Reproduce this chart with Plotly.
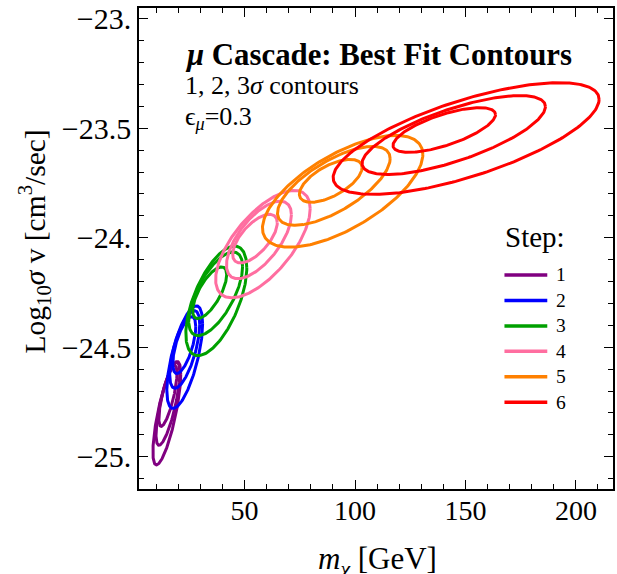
import numpy as np
import plotly.graph_objects as go

# ---- data ----
step_labels = ["1", "2", "3", "4", "5", "6"]
# contour levels per step, ordered 1σ, 2σ, 3σ
mass_center = [[15.3, 15.3, 14.8], [22.7, 22.9, 22.9], [34.2, 36.9, 37.2],
               [54.7, 56.5, 58.3], [89.0, 90.4, 94.4], [140.4, 144.7, 150.3]]
mass_halfwidth = [[4.1, 5.4, 6.3], [5.2, 6.8, 8.1], [7.7, 12.2, 13.8],
                  [10.1, 14.7, 21.4], [14.2, 25.5, 36.3], [23.2, 41.5, 60.2]]
logsv_center = [[-24.722, -24.758, -24.801], [-24.490, -24.510, -24.545],
                [-24.251, -24.256, -24.288], [-24.004, -24.010, -24.029],
                [-23.740, -23.763, -23.788], [-23.508, -23.531, -23.547]]
logsv_halfwidth = [[0.139, 0.189, 0.236], [0.130, 0.177, 0.234],
                   [0.118, 0.191, 0.250], [0.111, 0.177, 0.245],
                   [0.098, 0.180, 0.255], [0.102, 0.180, 0.255]]
correlation = [[0.75, 0.75, 0.75], [0.65, 0.65, 0.65], [0.70, 0.65, 0.60],
               [0.65, 0.65, 0.66], [0.62, 0.69, 0.66], [0.69, 0.72, 0.70]]
mass_scan_min = 8.5  # lower edge of the mass scan (step 1 contours are cut there)

x_ticks = [50, 100, 150, 200]
y_ticks = [-25, -24.5, -24, -23.5, -23]
y_tick_text = ["\u221225.", "\u221224.5", "\u221224.", "\u221223.5", "\u221223."]

colors = ["#800080", "#0000FF", "#00A000", "#FF6EA0", "#FF8000", "#FF0000"]
FONT = "Liberation Serif"

fig = go.Figure()
t = np.linspace(0, 2 * np.pi, 241)
for i, lab in enumerate(step_labels):
    for j in range(3):
        phi = np.arccos(correlation[i][j])
        x = mass_center[i][j] + mass_halfwidth[i][j] * np.cos(t)
        y = logsv_center[i][j] + logsv_halfwidth[i][j] * np.cos(t - phi)
        x = np.maximum(x, mass_scan_min)
        fig.add_trace(go.Scatter(
            x=x, y=y, mode="lines",
            line=dict(color=colors[i], width=3),
            name=lab, legendgroup=lab, showlegend=False,
            hoverinfo="skip"))

axis_common = dict(
    showline=True, linecolor="black", linewidth=1.5, mirror="ticks",
    ticks="inside", ticklen=9, tickwidth=1.2, tickcolor="black",
    showgrid=False, zeroline=False,
)

fig.update_xaxes(
    range=[2.2, 216.8], tickmode="array", tickvals=x_ticks,
    tickfont=dict(family=FONT, size=28, color="black"), ticklabelstandoff=-4,
    minor=dict(tick0=0, dtick=10, ticks="inside", ticklen=5, tickwidth=1, tickcolor="black"),
    **axis_common)
fig.update_yaxes(
    range=[-25.147, -22.951], tickmode="array", tickvals=y_ticks, ticktext=y_tick_text,
    tickfont=dict(family=FONT, size=30, color="black"),
    minor=dict(tick0=-25, dtick=0.1, ticks="inside", ticklen=5, tickwidth=1, tickcolor="black"),
    **axis_common)

W, H = 617, 574
L, R, T, B = 139, 2, 6, 85
pw, ph = W - L - R, H - T - B

def px(xp):
    return (xp - L) / pw

def py(yp):
    return 1 - (yp - T) / ph

annots = [
    dict(text="<b><i>\u03bc</i> Cascade: Best Fit Contours</b>", x=px(183), y=py(53),
         size=30.8),
    dict(text="1, 2, 3<i>\u03c3</i> contours", x=px(183), y=py(84), size=26),
    dict(text="\u03f5<sub><i>\u03bc</i></sub>=0.3", x=px(183), y=py(116), size=26),
]
for a in annots:
    fig.add_annotation(text=a["text"], x=a["x"], y=a["y"], xref="paper", yref="paper",
                       xanchor="left", yanchor="middle", showarrow=False,
                       font=dict(family=FONT, size=a["size"], color="black"))

fig.add_annotation(text="Log<sub>10</sub><i>\u03c3</i> v [cm<sup>3</sup>/sec]",
                   x=px(34), y=py(240), xref="paper", yref="paper", textangle=-90,
                   xanchor="center", yanchor="middle", showarrow=False,
                   font=dict(family=FONT, size=29.5, color="black"))
fig.add_annotation(text="<i>m</i><sub><i>\u03c7</i></sub>\u00a0[GeV]",
                   x=px(379), y=py(561), xref="paper", yref="paper",
                   xanchor="center", yanchor="middle", showarrow=False,
                   font=dict(family=FONT, size=31, color="black"))

# legend (drawn as a key box inside the frame)
fig.add_annotation(text="Step:", x=px(505), y=py(236), xref="paper", yref="paper",
                   xanchor="left", yanchor="middle", showarrow=False,
                   font=dict(family=FONT, size=29, color="black"))
key_top, key_step = 274, 25.6
for i, lab in enumerate(step_labels):
    yk = py(key_top + i * key_step)
    fig.add_shape(type="line", xref="paper", yref="paper",
                  x0=px(506), x1=px(549), y0=yk, y1=yk,
                  line=dict(color=colors[i], width=3.5))
    fig.add_annotation(text=lab, x=px(556), y=yk, xref="paper", yref="paper",
                       xanchor="left", yanchor="middle", showarrow=False,
                       font=dict(family=FONT, size=19.5, color="black"))

fig.update_layout(
    width=W, height=H, margin=dict(l=L, r=R, t=T, b=B, pad=0),
    paper_bgcolor="white", plot_bgcolor="white",
    showlegend=False,
)

fig.write_html("out.html", config={"displayModeBar": False},
               post_script="document.body.style.margin='0';document.body.style.overflow='hidden';")
